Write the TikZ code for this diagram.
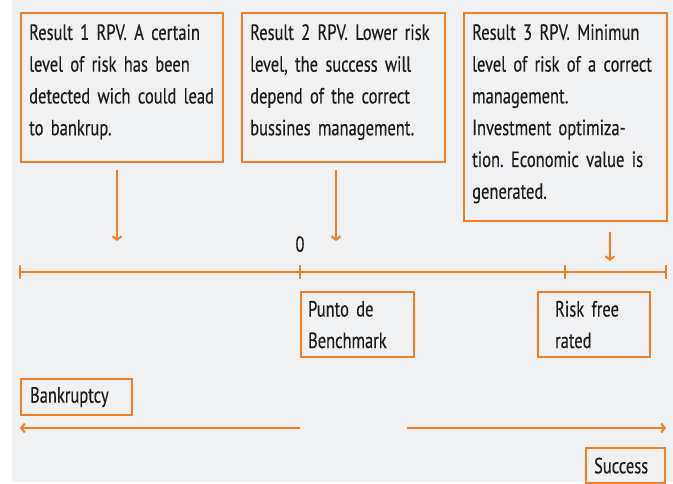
\documentclass[tikz,border=0pt]{standalone}
\usepackage{fontspec}
\setmainfont{PT Sans}[FakeStretch=0.75,WordSpace=0.7,FakeBold=0.3]
\frenchspacing
\usetikzlibrary{arrows.meta}

\definecolor{rpvorange}{RGB}{243,126,38}
\definecolor{rpvgray}{RGB}{240,241,243}
\definecolor{rpvtext}{RGB}{30,28,29}

\tikzset{
	rbox/.style={draw=rpvorange, line width=2.2pt, anchor=north west},
	rtxt/.style={anchor=north west, inner sep=0pt, align=left, text=rpvtext, font=\fontsize{22}{31.8}\selectfont},
	sbox/.style={rbox, inner ysep=0pt, align=left, text=rpvtext, font=\fontsize{22}{31.5}\selectfont},
	rline/.style={draw=rpvorange, line width=2pt},
	rarrow/.style={rline, -{Straight Barb[length=3.5pt,width=9pt]}},
}

\begin{document}
\begin{tikzpicture}[x=1pt,y=1pt,yscale=-1]
		\useasboundingbox (0,0) rectangle (673,483);
		%Shape: Rectangle [background]
		\fill[rpvgray] (12,0) rectangle (673,482);
		
		%Shape: Rectangle [result 1]
		\node[rbox, minimum width=202, minimum height=149] (res1) at (20,12) {};
		% Text Node
		\node[rtxt, text width=195] (res1t) at ([xshift=9pt,yshift=12pt]res1.north west) {Result 1 RPV. A certain\\level of risk has been\\detected wich could lead\\to bankrup.};
		%Shape: Rectangle [result 2]
		\node[rbox, minimum width=203, minimum height=149] (res2) at (241,12) {};
		% Text Node
		\node[rtxt, text width=195] (res2t) at ([xshift=9pt,yshift=12pt]res2.north west) {Result 2 RPV. Lower risk\\level, the success will\\depend of the correct\\bussines management.};
		%Shape: Rectangle [result 3]
		\node[rbox, minimum width=203, minimum height=208] (res3) at (463,12) {};
		% Text Node
		\node[rtxt, text width=195] (res3t) at ([xshift=9pt,yshift=12pt]res3.north west) {Result 3 RPV. Minimun\\level of risk of a correct\\management.\\Investment optimiza-\\tion. Economic value is\\generated.};
		
		%Straight Lines [arrows from the results]
		\coordinate (a1s) at (117,170);
		\coordinate (a1e) at (117,241);
		\coordinate (a2s) at (336,170);
		\coordinate (a2e) at (336,241);
		\coordinate (a3s) at (610,232);
		\coordinate (a3e) at (610,261);
		\draw[rarrow] (a1s) -- (a1e);
		\draw[rarrow] (a2s) -- (a2e);
		\draw[rarrow] (a3s) -- (a3e);
		
		% Text Node
		\node[rtxt, anchor=center] (zero) at (300,244) {0};
		
		%Straight Lines [scale]
		\coordinate (axl) at (20,272);
		\coordinate (axr) at (666,272);
		\draw[rline] (axl) -- (axr);
		\foreach \t in {20,300,565,666}
			\draw[rline] (\t,265) -- (\t,279);
		
		%Shape: Rectangle [points of the scale]
		\node[sbox, inner xsep=7pt, text width=99, minimum height=65] (bench) at (300,291) {Punto de\\Benchmark};
		\node[sbox, inner xsep=17pt, text width=78, minimum height=65] (rfree) at (537,291) {Risk free\\rated};
		
		%Shape: Rectangle [ends]
		\node[sbox, inner xsep=9pt, text width=93, minimum height=36] (bank) at (20,378) {Bankruptcy};
		\node[sbox, inner xsep=8pt, text width=63, minimum height=35] (succ) at (585,447) {Success};
		
		%Straight Lines [directions]
		\coordinate (bks) at (300,428);
		\coordinate (bke) at (20,428);
		\coordinate (scs) at (407,428);
		\coordinate (sce) at (666,428);
		\draw[rarrow] (bks) -- (bke);
		\draw[rarrow] (scs) -- (sce);
\end{tikzpicture}
\end{document}
